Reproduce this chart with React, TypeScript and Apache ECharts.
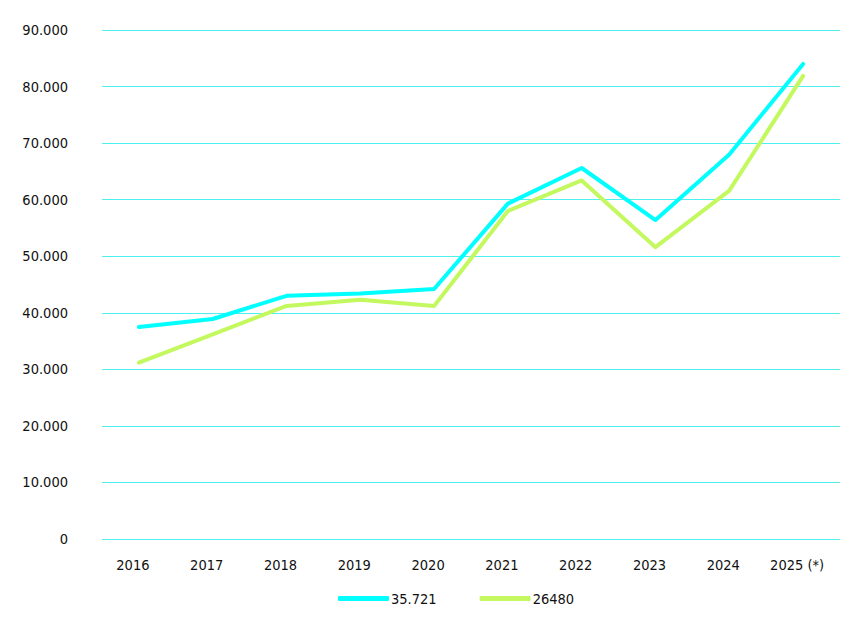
import React, { useEffect, useRef } from "react";
import * as echarts from "echarts";

const categories = ["2016", "2017", "2018", "2019", "2020", "2021", "2022", "2023", "2024", "2025 (*)"];
const seriesNames = ["35.721", "26480"];
const cyanValues = [37500, 38900, 43000, 43400, 44200, 59300, 65600, 56400, 68000, 84000];
const greenValues = [31200, 36200, 41200, 42300, 41200, 58000, 63400, 51600, 61600, 81900];

const FONT = "'DejaVu Sans Condensed', 'DejaVu Sans', sans-serif";

function fmt(v: number): string {
  if (v === 0) return "0";
  return String(Math.round(v)).replace(/\B(?=(\d{3})+(?!\d))/g, ".");
}

export default function App() {
  const ref = useRef<HTMLDivElement>(null);
  useEffect(() => {
    if (!ref.current) return;
    const chart = echarts.init(ref.current, null, { renderer: "svg" });
    chart.setOption({
      animation: false,
      backgroundColor: "#ffffff",
      grid: { left: 102, right: 10, top: 30, bottom: 83, containLabel: false },
      legend: {
        left: 338,
        top: 591,
        padding: 0,
        icon: "roundRect",
        itemWidth: 51,
        itemHeight: 5,
        itemGap: 43,
        textStyle: { fontFamily: FONT, fontSize: 14.5, color: "#111111", padding: [0, 0, 0, -3] },
        data: seriesNames,
      },
      xAxis: {
        type: "category",
        data: categories,
        boundaryGap: true,
        axisLine: { show: false },
        axisTick: { show: false },
        axisLabel: {
          interval: 0,
          fontFamily: FONT,
          fontSize: 14.5,
          color: "#111111",
          margin: 18,
          padding: [0, 12, 0, 0],
        },
      },
      yAxis: {
        type: "value",
        min: 0,
        max: 90000,
        interval: 10000,
        axisLine: { show: false },
        axisTick: { show: false },
        splitLine: { lineStyle: { color: "#4ff0f0", width: 1 } },
        axisLabel: {
          fontFamily: FONT,
          fontSize: 14.5,
          color: "#111111",
          margin: 34,
          formatter: (v: number) => fmt(v),
        },
      },
      series: [
        {
          name: seriesNames[0],
          type: "line",
          data: cyanValues,
          showSymbol: false,
          symbol: "none",
          itemStyle: { color: "#00ffff" },
          lineStyle: { color: "#00ffff", width: 4, cap: "round", join: "round" },
          z: 3,
        },
        {
          name: seriesNames[1],
          type: "line",
          data: greenValues,
          showSymbol: false,
          symbol: "none",
          itemStyle: { color: "#c3f85f" },
          lineStyle: { color: "#c3f85f", width: 4, cap: "round", join: "round" },
          z: 2,
        },
      ],
    });
    return () => chart.dispose();
  }, []);
  return (
    <div
      ref={ref}
      style={{ position: "absolute", left: 0, top: 0, width: 850, height: 622 }}
    />
  );
}
